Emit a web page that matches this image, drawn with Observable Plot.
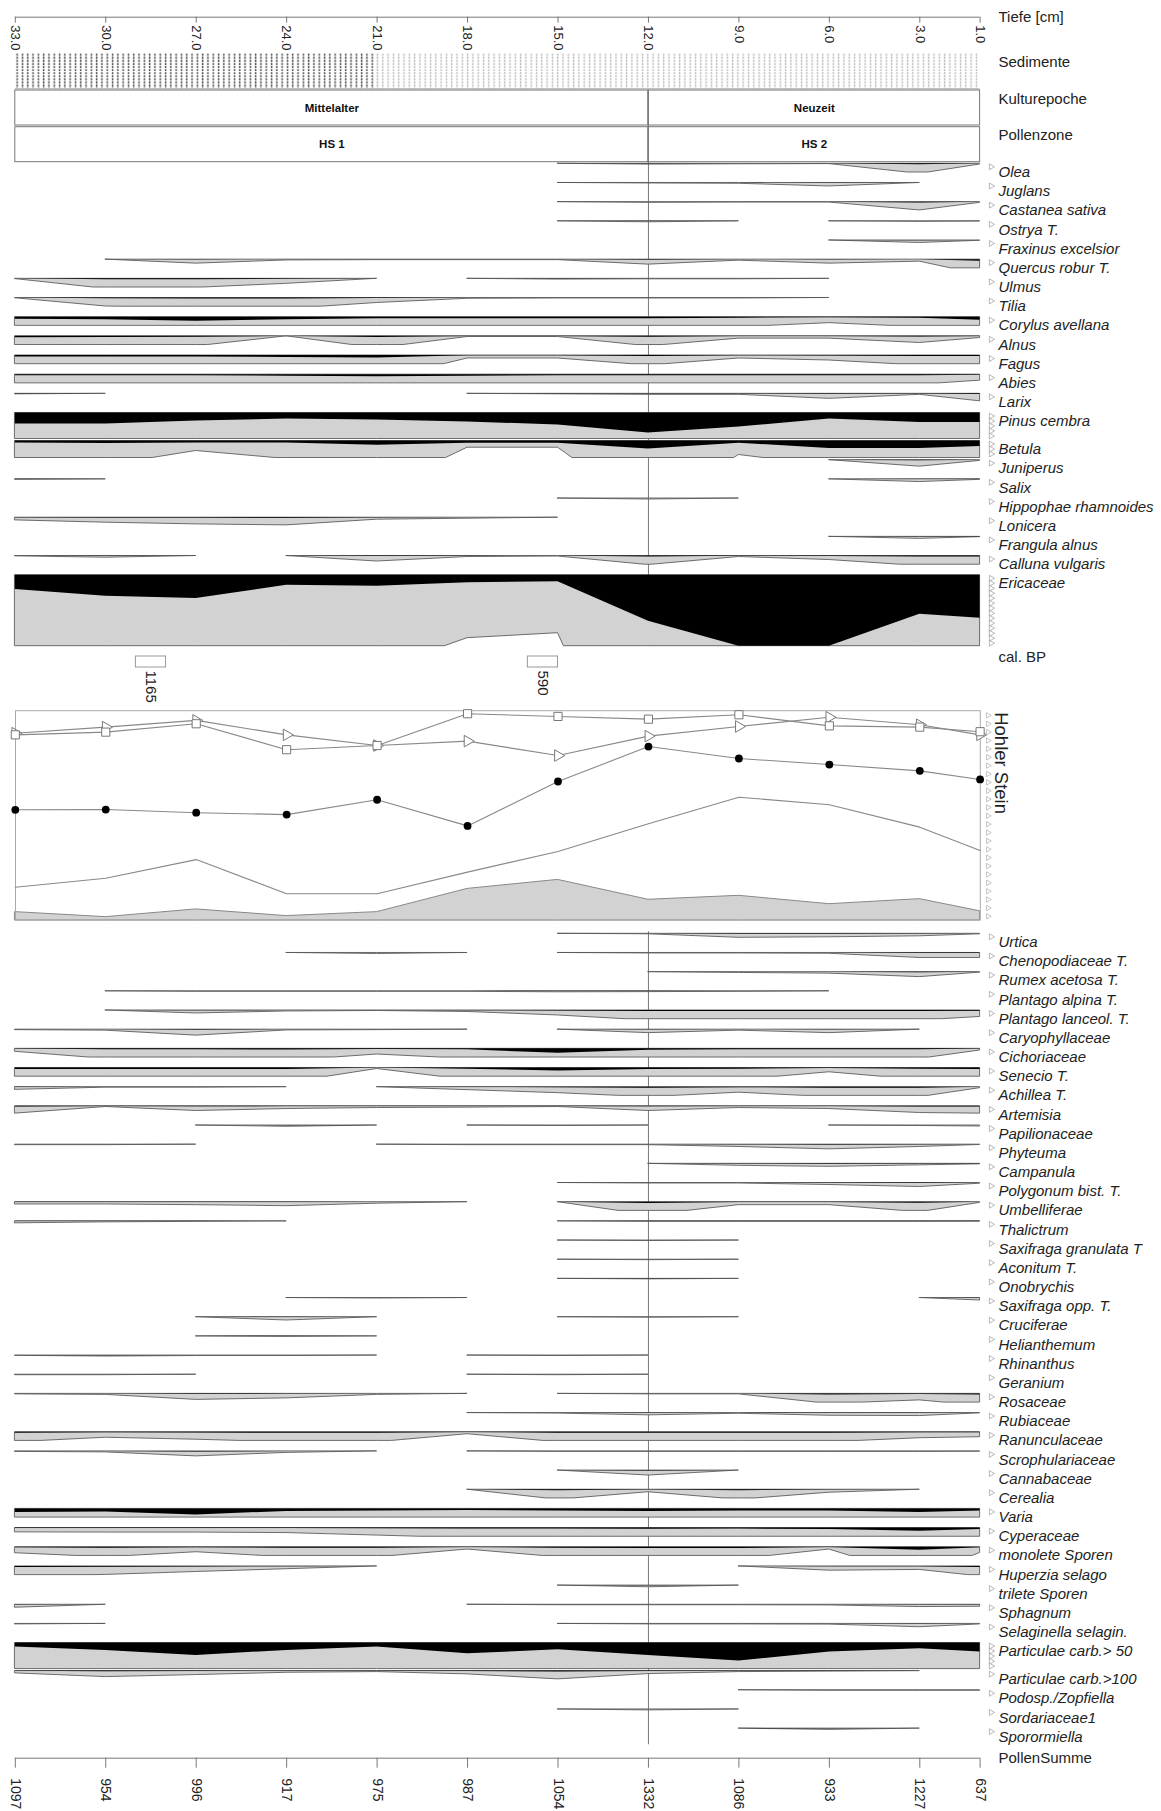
<!DOCTYPE html>
<html><head><meta charset="utf-8">
<script src="https://cdn.jsdelivr.net/npm/d3@7"></script>
<script src="https://cdn.jsdelivr.net/npm/@observablehq/plot@0.6"></script>
<style>
body{margin:0;background:#fff;}
#wrap{position:relative;width:1161px;height:1811px;overflow:hidden;}
#wrap svg{position:absolute;left:0;top:0;}
</style></head><body><div id="wrap"></div>
<script>
// ================= DATA =================
const depths = [33, 30, 27, 24, 21, 18, 15, 12, 9, 6, 3, 1];
const pollenSum = [1097, 954, 996, 917, 975, 987, 1054, 1332, 1086, 933, 1227, 637];
const sediments = [{from: 33, to: 21, type: "dark"}, {from: 21, to: 1, type: "light"}];
const culturalEpochs = [{name: "Mittelalter", from: 33, to: 12}, {name: "Neuzeit", from: 12, to: 1}];
const pollenZones = [{name: "HS 1", from: 33, to: 12}, {name: "HS 2", from: 12, to: 1}];
const calDates = [{from: 29, to: 28, label: "1165"}, {from: 16, to: 15, label: "590"}];

// taxa values (%), one value per depth 33 ... 1
const olea        = [0,0,0,0,0,0,0,0.08,0.05,0.03,1.0,0.07];
const juglans     = [0,0,0,0,0,0,0,0.05,0.08,0.35,0,0];
const castanea    = [0,0,0,0,0,0,0,0.07,0.04,0.04,0.83,0.07];
const ostrya      = [0,0,0,0,0,0,0,0.1,0,0,0.05,0.02];
const fraxinus    = [0,0,0,0,0,0,0,0,0,0,0.25,0.03];
const quercus     = [0,0,0.4,0.08,0.05,0.05,0.05,0.5,0.1,0.4,0.2,1.5];
const ulmus       = [0.03,1.0,0.9,0.5,0,0,0.08,0.05,0.05,0,0,0];
const tilia       = [0.03,0.85,1.0,1.1,0.5,0.08,0.05,0.05,0.05,0,0,0];
const corylus     = [2,2.5,4,2.5,1.5,1.5,1.5,1.5,1,0.6,1,3];
const alnus       = [1.5,1.2,1.0,0,1.2,0.07,0.07,1.0,0.23,0.23,0.67,0.17];
const fagus       = [1.5,1.5,1.5,2,2.5,0.3,0.3,1,0.3,0.5,1,1];
const abies       = [1.2,1.2,1.2,1.5,2,1.5,1.2,1.2,1,1,1,0.6];
const larix       = [0.05,0,0,0,0,0,0.05,0.1,0.1,0.5,0.1,0.75];
const pinus       = [11,11,8,6,7,9,12,20,14,6,9.5,9.5];
const betula      = [2,2.5,2,2,4.3,2.3,2.3,8,2.2,7.5,7.5,5.5];
const betulaGray  = [2.5,2.45,1.0,1.8,5.0,0.67,0.67,7.1,1.4,2.5,2.5,2.5];
const juniperus   = [0,0,0,0,0,0,0,0,0,0,0.65,0.07];
const salix       = [0.05,0,0,0,0,0,0,0,0,0,0.27,0.05];
const hippophae   = [0,0,0,0,0,0,0,0.1,0,0,0,0];
const lonicera    = [0.27,0.5,0.67,0.77,0.2,0.1,0,0,0,0,0,0];
const frangula    = [0,0,0,0,0,0,0,0,0,0,0.2,0.03];
const calluna     = [0.03,0.17,0,0,0.55,0.1,0.05,0.9,0.1,0.4,1.0,1.0];
const ericaceae   = [14.3,21,23.3,10,11,7.5,6.5,46,71,71,39,43];
const ericaceaeGray = [9.5,10,10,10,9.5,6.3,5.8,25.7,10,10,10,10];

const urtica      = [0,0,0,0,0,0,0,0.05,0.4,0.35,0.25,0.05];
const chenopod    = [0,0,0,0,0.1,0,0,0.05,0.05,0.08,0.5,0.5];
const rumex       = [0,0,0,0,0,0,0,0,0.08,0.15,0.5,0.05];
const plantagoAlp = [0,0,0.05,0.05,0.05,0.05,0.1,0.08,0.05,0,0,0];
const plantagoLan = [0,0,0.3,0.1,0.05,0.15,0.5,1.0,1.0,1.0,1.0,0.65];
const caryoph     = [0.05,0.1,0.6,0.08,0.05,0,0,0.35,0.1,0.35,0,0];
const cichor      = [0.3,1.0,1.0,1.2,0.57,1.0,4.5,1.5,1.0,1.0,1.0,0.17];
const senecio     = [1.5,1.5,1.5,1.5,0.1,1.2,3,1.5,1.2,0.43,1.2,1.5];
const achillea    = [0.27,0.05,0.05,0,0,0.3,0.6,1.0,0.55,1.0,1.0,0.1];
const artemisia   = [0.73,0.07,0.47,0.27,0.17,0.13,0.07,0.47,0.17,0.27,0.67,0.73];
const papilion    = [0,0,0,0.13,0,0,0.05,0,0,0,0.05,0.1];
const phyteuma    = [0.05,0.05,0,0,0,0.05,0.05,0.05,0.23,0.47,0.23,0.03];
const campanula   = [0,0,0,0,0,0,0,0,0.2,0.3,0.15,0.05];
const polygonum   = [0,0,0,0,0,0,0,0.05,0.05,0.2,0.4,0.07];
const umbellif    = [0.23,0.23,0.3,0.4,0.15,0,0,1.3,0.3,0.3,1.0,0.07];
const thalictrum  = [0.2,0.1,0.05,0,0,0,0,0.05,0.05,0.05,0.05,0.03];
const saxGran     = [0,0,0,0,0,0,0,0.05,0,0,0,0];
const aconitum    = [0,0,0,0,0,0,0,0.05,0,0,0,0];
const onobrychis  = [0,0,0,0,0,0,0,0.05,0,0,0,0];
const saxOpp      = [0,0,0,0,0.05,0,0,0,0,0,0,0.25];
const cruciferae  = [0,0,0,0.33,0,0,0,0.05,0,0,0,0];
const helianth    = [0,0,0,0.05,0,0,0,0,0,0,0,0];
const rhinanthus  = [0.03,0.1,0.05,0.05,0,0,0.05,0,0,0,0,0];
const geranium    = [0.05,0.05,0,0,0,0,0.05,0,0,0,0,0];
const rosaceae    = [0.05,0.1,0.6,0.45,0.1,0,0,0.05,0.05,1.0,0.65,1.2];
const rubiaceae   = [0,0,0,0,0,0,0.05,0.23,0.07,0.27,0.3,0.03];
const ranunc      = [1.0,0.55,0.75,1.0,1.0,0.2,1.0,1.0,1.0,1.0,0.6,0.5];
const scroph      = [0.05,0.1,0.5,0.15,0,0,0.05,0.05,0.05,0.05,0.05,0.03];
const cannab      = [0,0,0,0,0,0,0,0.5,0,0,0,0];
const cerealia    = [0,0,0,0,0,0,1.0,0.25,1.0,0.3,0,0];
const varia       = [3.5,3,6,2.5,2,1.5,2,2.5,2,2,3.5,2];
const cyperaceae  = [0.43,0.45,0.45,0.5,0.75,1.0,1.0,1.2,1.0,1.5,3.3,1.5];
const monolete    = [0.6,1.0,0.5,1.0,1.0,0.23,1.0,1.2,1.2,0.23,3,0.57];
const huperzia    = [1.0,0.85,0.56,0.28,0,0,0,0,0,0.43,0.35,1.0];
const trilete     = [0,0,0,0,0,0,0,0.17,0,0,0,0];
const sphagnum    = [0.3,0,0,0,0,0,0.05,0.05,0.05,0.07,0.23,0.2];
const selaginella = [0.05,0,0,0,0,0,0,0.05,0.05,0.07,0.33,0.05];
const partic50    = [4,7.3,12.3,7.3,4,10.7,6.7,12.3,18,9,5.7,9];
const partic100   = [0.23,0.6,0.4,0.17,0.1,0.33,0.83,0.3,0.1,0.05,0,0];
const podosp      = [0,0,0,0,0,0,0,0,0,0.05,0.05,0.05];
const sordaria    = [0,0,0,0,0,0,0,0.1,0,0,0,0];
const sporormiella= [0,0,0,0,0,0,0,0,0,0.13,0,0];

// Hohler Stein panel series (relative scale 0-100)
const hsSquares   = [88.7, 90.0, 94.0, 81.6, 83.6, 98.8, 97.5, 96.2, 98.3, 93.0, 92.4, 90.2];
const hsTriangles = [89.5, 92.4, 95.6, 88.7, 83.6, 85.7, 78.8, 88.1, 92.7, 97.1, 93.5, 88.7];
const hsCircles   = [52.9, 53.0, 51.5, 50.6, 57.7, 45.2, 66.4, 83.1, 77.4, 74.5, 71.5, 67.4];
const hsCurve     = [15.9, 20.2, 29.1, 12.8, 12.8, 23.1, 33.0, 46.2, 58.9, 55.3, 44.6, 33.4];
const hsArea      = [4.0, 1.6, 5.3, 2.1, 4.0, 15.1, 19.4, 9.9, 11.8, 7.8, 10.2, 4.4];

const upperTaxa = [
  ["Olea", olea], ["Juglans", juglans], ["Castanea sativa", castanea], ["Ostrya T.", ostrya],
  ["Fraxinus excelsior", fraxinus], ["Quercus robur T.", quercus], ["Ulmus", ulmus], ["Tilia", tilia],
  ["Corylus avellana", corylus], ["Alnus", alnus], ["Fagus", fagus], ["Abies", abies], ["Larix", larix],
  ["Pinus cembra", pinus], ["Betula", betula], ["Juniperus", juniperus], ["Salix", salix],
  ["Hippophae rhamnoides", hippophae], ["Lonicera", lonicera], ["Frangula alnus", frangula],
  ["Calluna vulgaris", calluna], ["Ericaceae", ericaceae]
];
const lowerTaxa = [
  ["Urtica", urtica], ["Chenopodiaceae T.", chenopod], ["Rumex acetosa T.", rumex],
  ["Plantago alpina T.", plantagoAlp], ["Plantago lanceol. T.", plantagoLan], ["Caryophyllaceae", caryoph],
  ["Cichoriaceae", cichor], ["Senecio T.", senecio], ["Achillea T.", achillea], ["Artemisia", artemisia],
  ["Papilionaceae", papilion], ["Phyteuma", phyteuma], ["Campanula", campanula],
  ["Polygonum bist. T.", polygonum], ["Umbelliferae", umbellif], ["Thalictrum", thalictrum],
  ["Saxifraga granulata T", saxGran], ["Aconitum T.", aconitum], ["Onobrychis", onobrychis],
  ["Saxifraga opp. T.", saxOpp], ["Cruciferae", cruciferae], ["Helianthemum", helianth],
  ["Rhinanthus", rhinanthus], ["Geranium", geranium], ["Rosaceae", rosaceae], ["Rubiaceae", rubiaceae],
  ["Ranunculaceae", ranunc], ["Scrophulariaceae", scroph], ["Cannabaceae", cannab], ["Cerealia", cerealia],
  ["Varia", varia], ["Cyperaceae", cyperaceae], ["monolete Sporen", monolete], ["Huperzia selago", huperzia],
  ["trilete Sporen", trilete], ["Sphagnum", sphagnum], ["Selaginella selagin.", selaginella],
  ["Particulae carb.> 50", partic50], ["Particulae carb.>100", partic100],
  ["Podosp./Zopfiella", podosp], ["Sordariaceae1", sordaria], ["Sporormiella", sporormiella]
];
const grayOverride = {"Betula": betulaGray, "Ericaceae": ericaceaeGray};
const rowScaleMax = {"Pinus cembra": 26, "Betula": 17, "Ericaceae": 71, "Particulae carb.> 50": 26};

// ================= LAYOUT / STYLE =================
const W = 1161, H = 1811;
const X_RANGE = [14.8, 979.6];
const LAB_DX = 18.4;
const FONT = "'Liberation Sans', Arial, Helvetica, sans-serif";
const EXAG = 10, ROW_H = 8.7, PITCH = 19.17;
const L = {
  axisTop: 16.7, sedTop: 53.3, sedBot: 88.3, epTop: 90, epBot: 125, pzTop: 126.7, pzBot: 161.7,
  upperTop: 163.3, lowerTop: 933.3, calTop: 656, calBot: 667, hsTop: 710.7, hsBot: 920, footAxis: 1757.7
};
const GRAY = "#d2d2d2";

function segmentRuns(vals) {
  const runs = []; let cur = null;
  for (let j = 0; j < vals.length - 1; j++) {
    if (vals[j] > 0 || vals[j + 1] > 0) {
      if (!cur) cur = [j];
      cur.push(j + 1);
    } else if (cur) { runs.push(cur); cur = null; }
  }
  if (cur) runs.push(cur);
  return runs;
}
function buildGroup(list, top) {
  const rows = [], gray = [], black = [], ticks = [];
  let off = top;
  for (const [name, vals] of list) {
    const h = rowScaleMax[name] ?? ROW_H;
    const base = off;
    rows.push({name, base, h});
    const gv = grayOverride[name] ?? vals;
    segmentRuns(vals).forEach((run, ri) => {
      const z = name + "#" + ri;
      run.forEach((j, k) => {
        const g = gv[j] * EXAG;
        gray.push({depth: depths[j], base, y: base + Math.min(g, h), z});
        black.push({depth: depths[j], base, y: base + Math.min(vals[j], h), z});
        // clip the exaggeration curve at the row limit where it crosses it between samples
        if (k < run.length - 1) {
          const j2 = run[k + 1], g2 = gv[j2] * EXAG;
          if ((g - h) * (g2 - h) < 0) {
            const t = (h - g) / (g2 - g);
            gray.push({depth: depths[j] + t * (depths[j2] - depths[j]), base, y: base + h, z});
          }
        }
      });
    });
    for (let t = 0; t <= h - 4; t += 5) ticks.push({y: base + 3 + t});
    off += Math.max(PITCH, h + 2);
  }
  return {rows, gray, black, ticks, bottom: off};
}
const up = buildGroup(upperTaxa, L.upperTop);
const lo = buildGroup(lowerTaxa, L.lowerTop);

function taxaMarks(g) {
  return [
    Plot.areaY(g.gray, {x: "depth", y1: "base", y2: "y", z: "z", fill: GRAY, stroke: "#555", strokeWidth: 0.85, curve: "linear"}),
    Plot.areaY(g.black, {x: "depth", y1: "base", y2: "y", z: "z", fill: "#000", curve: "linear"}),
    Plot.text(g.rows, {x: 1, dx: LAB_DX, y: d => d.base + 8.4, text: "name", textAnchor: "start",
      fontStyle: "italic", fontSize: 15, fill: "#222", fontFamily: FONT}),
    Plot.dot(g.ticks, {x: 1, dx: 11, y: "y", symbol: "triangle", rotate: 90, r: 2.2, fill: "white", stroke: "#9a9a9a", strokeWidth: 0.7})
  ];
}

const sideLabels = [
  {label: "Tiefe [cm]", y: L.axisTop}, {label: "Sedimente", y: 61.7}, {label: "Kulturepoche", y: 98.3},
  {label: "Pollenzone", y: 135}, {label: "cal. BP", y: 656.7}, {label: "PollenSumme", y: L.footAxis}
];

const main = Plot.plot({
  width: W, height: H, margin: 0,
  style: {background: "transparent", fontFamily: FONT},
  x: {domain: [33, 1], range: X_RANGE, axis: null},
  y: {domain: [0, H], range: [0, H], axis: null},
  marks: [
    // depth axis
    Plot.ruleY([L.axisTop], {x1: 33, x2: 1, stroke: "#777"}),
    Plot.ruleX(depths, {x: d => d, y1: L.axisTop, y2: L.axisTop + 6, stroke: "#777"}),
    Plot.text(depths, {x: d => d, y: L.axisTop + 8, text: d => d.toFixed(1), rotate: 90, textAnchor: "start", fontSize: 13, fill: "#222"}),
    // sediments
    Plot.rect(sediments.filter(d => d.type === "dark"), {x1: "from", x2: "to", y1: L.sedTop, y2: L.sedBot, fill: "url(#sedDark)"}),
    Plot.rect(sediments.filter(d => d.type === "light"), {x1: "from", x2: "to", y1: L.sedTop, y2: L.sedBot, fill: "url(#sedLight)"}),
    Plot.ruleY([L.sedBot], {x1: 33, x2: 1, stroke: "#aaa"}),
    // epochs and zones
    Plot.rect(culturalEpochs, {x1: "from", x2: "to", y1: L.epTop, y2: L.epBot, fill: "white", stroke: "#777"}),
    Plot.text(culturalEpochs, {x: d => (d.from + d.to) / 2, y: (L.epTop + L.epBot) / 2, text: "name", fontWeight: "bold", fontSize: 11.5, fill: "#111"}),
    Plot.rect(pollenZones, {x1: "from", x2: "to", y1: L.pzTop, y2: L.pzBot, fill: "white", stroke: "#777"}),
    Plot.text(pollenZones, {x: d => (d.from + d.to) / 2, y: (L.pzTop + L.pzBot) / 2, text: "name", fontWeight: "bold", fontSize: 11.5, fill: "#111"}),
    // zone boundary
    Plot.ruleX([12], {y1: L.epTop, y2: up.bottom - 2, stroke: "#777"}),
    Plot.ruleX([12], {y1: L.lowerTop - 2, y2: lo.bottom - 3, stroke: "#777"}),
    ...taxaMarks(up),
    ...taxaMarks(lo),
    // cal BP
    Plot.rect(calDates, {x1: "from", x2: "to", y1: L.calTop, y2: L.calBot, fill: "white", stroke: "#999"}),
    Plot.text(calDates, {x: d => (d.from + d.to) / 2, y: L.calBot + 3, text: "label", rotate: 90, textAnchor: "start", fontSize: 15, fill: "#222"}),
    // pollen sum axis
    Plot.ruleY([L.footAxis], {x1: 33, x2: 1, stroke: "#777"}),
    Plot.ruleX(depths, {x: d => d, y1: L.footAxis, y2: L.footAxis + 10, stroke: "#777"}),
    Plot.text(depths, {x: d => d, y: L.footAxis + 20, text: (d, i) => String(pollenSum[i]), rotate: 90, textAnchor: "start", fontSize: 14, fill: "#222"}),
    // side labels
    Plot.text(sideLabels, {x: 1, dx: LAB_DX, y: "y", text: "label", textAnchor: "start", fontSize: 15, fill: "#222"})
  ]
});
main.insertAdjacentHTML("afterbegin", `<defs>
  <pattern id="sedDark" patternUnits="userSpaceOnUse" x="${X_RANGE[0]}" y="${L.sedTop}" width="5.3" height="3.1">
    <rect x="1.6" y="0.2" width="1.5" height="2.2" fill="#555"/>
  </pattern>
  <pattern id="sedLight" patternUnits="userSpaceOnUse" x="${X_RANGE[0]}" y="${L.sedTop}" width="5.3" height="3.1">
    <rect x="1.6" y="0.2" width="1.4" height="2.2" fill="#bdbdbd"/>
  </pattern></defs>`);

// Hohler Stein panel
const hsTable = depths.map((d, i) => ({depth: d, sq: hsSquares[i], tri: hsTriangles[i], ci: hsCircles[i], cu: hsCurve[i], ar: hsArea[i]}));
const hsScaleMarks = d3.range(2, 100, 4);
const hs = Plot.plot({
  width: W, height: H, margin: 0,
  style: {background: "transparent", fontFamily: FONT},
  x: {domain: [33, 1], range: X_RANGE, axis: null},
  y: {domain: [0, 100], range: [L.hsBot, L.hsTop], axis: null},
  marks: [
    Plot.areaY(hsTable, {x: "depth", y: "ar", fill: GRAY, stroke: "#888", strokeWidth: 1}),
    Plot.rect([0], {x1: 33, x2: 1, y1: 0, y2: 100, fill: "none", stroke: "#aaa", dx: 0.7}),
    Plot.line(hsTable, {x: "depth", y: "cu", stroke: "#888", strokeWidth: 1.1}),
    Plot.line(hsTable, {x: "depth", y: "ci", stroke: "#888", strokeWidth: 1.1}),
    Plot.line(hsTable, {x: "depth", y: "tri", stroke: "#888", strokeWidth: 1.1}),
    Plot.line(hsTable, {x: "depth", y: "sq", stroke: "#888", strokeWidth: 1.1}),
    Plot.dot(hsTable, {x: "depth", y: "ci", r: 3.9, fill: "#000"}),
    Plot.dot(hsTable, {x: "depth", y: "tri", symbol: "triangle", rotate: 90, r: 4.3, fill: "white", stroke: "#777", strokeWidth: 1}),
    Plot.dot(hsTable, {x: "depth", y: "sq", symbol: "square", r: 4.6, fill: "white", stroke: "#777", strokeWidth: 1}),
    Plot.dot(hsScaleMarks, {x: 1, dx: 8, y: d => d, symbol: "triangle", rotate: 90, r: 2, fill: "white", stroke: "#aaa", strokeWidth: 0.7}),
    Plot.text(["Hohler Stein"], {x: 1, dx: 20.5, y: 100, dy: 1, text: d => d, rotate: 90, textAnchor: "start", fontSize: 18.5, fill: "#222"})
  ]
});

const wrap = document.getElementById("wrap");
wrap.appendChild(main);
wrap.appendChild(hs);
</script>
</body></html>
